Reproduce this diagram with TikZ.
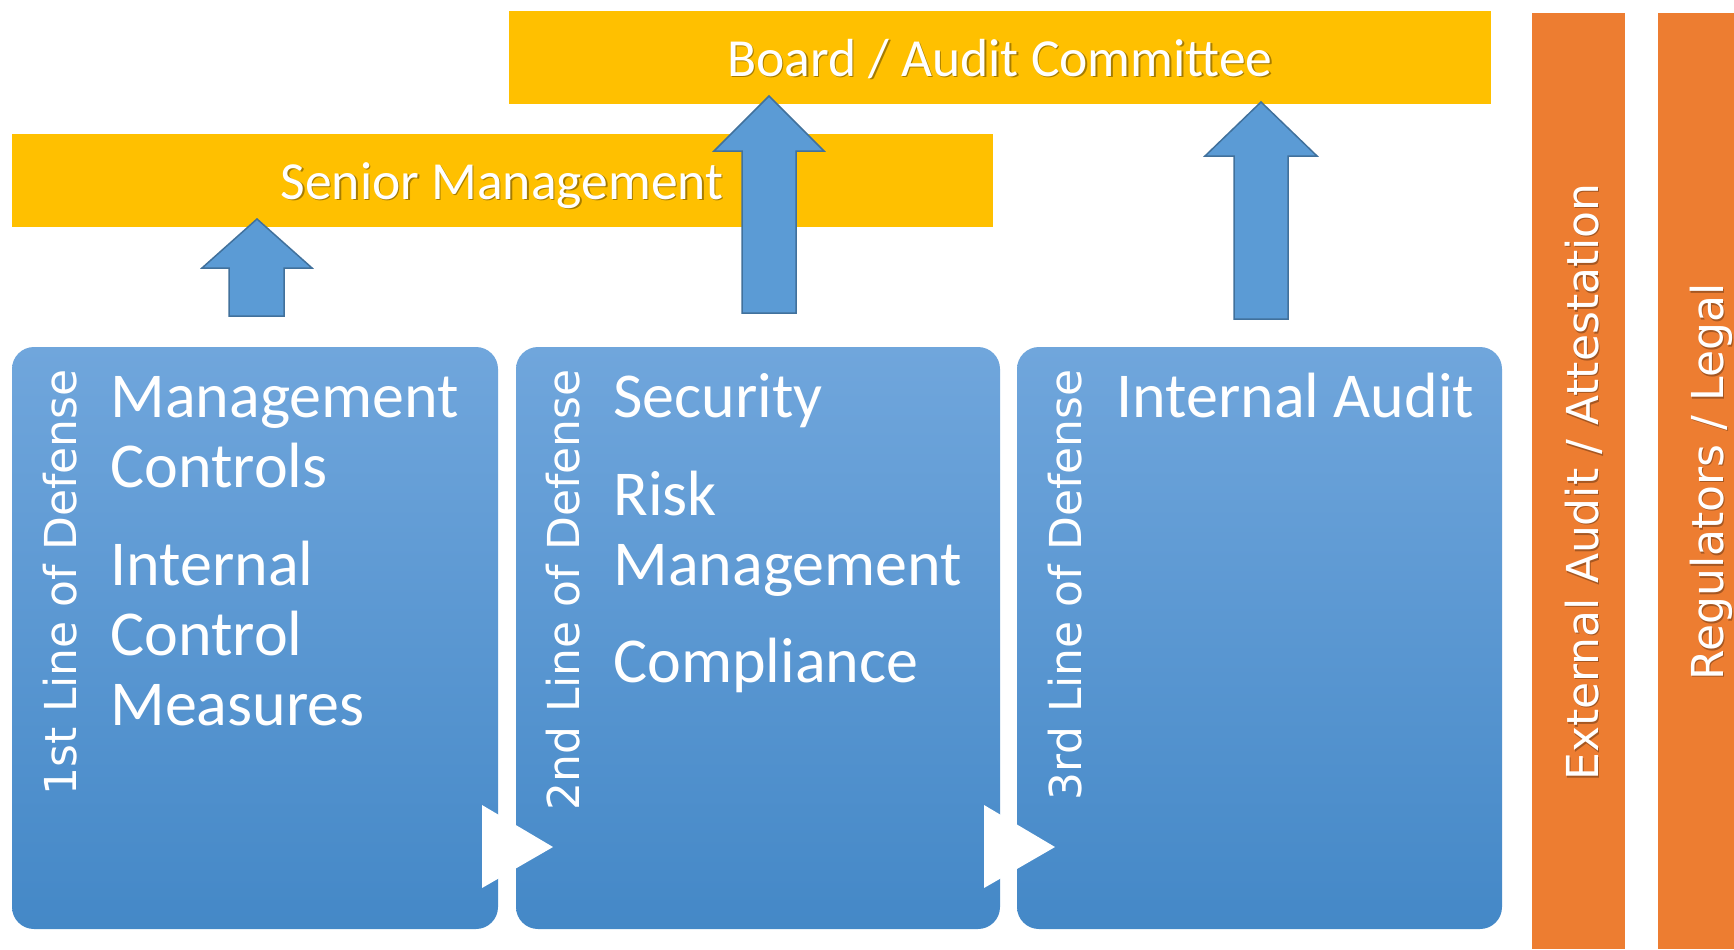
\documentclass[tikz,border=0pt]{standalone}
\usepackage{fontspec}
\setmainfont{Carlito}
\newfontfamily\dvfont{DejaVu Sans}
\definecolor{yel}{HTML}{FFC000}
\definecolor{org}{HTML}{ED7D31}
\definecolor{btop}{HTML}{70A6DC}
\definecolor{bbot}{HTML}{4488C7}
\definecolor{afill}{HTML}{5B9BD5}
\definecolor{aline}{HTML}{41719C}
\tikzset{
  bar/.style={fill=yel, draw=none},
  obar/.style={fill=org, draw=none},
  lodbox/.style={top color=btop, bottom color=bbot, draw=none, rounded corners=11pt},
  blockarrow/.style={fill=afill, draw=aline, line width=0.75pt, line join=miter},
  wtri/.style={fill=white, draw=none},
  itemtxt/.style={text=white, inner sep=0pt, anchor=base west, font=\fontsize{32}{36}\selectfont},
  bartxt/.style={text=white, inner sep=0pt, anchor=base, font=\fontsize{26.8}{30}\selectfont},
  shadowtxt/.style={text=black, text opacity=0.35, inner sep=0pt, anchor=base, font=\fontsize{26.8}{30}\selectfont},
  rottxt/.style={text=white, inner sep=0pt, rotate=90, anchor=base east, font=\dvfont\fontsize{22}{26}\selectfont},
  orgtxt/.style={text=white, inner sep=0pt, rotate=90, anchor=base, font=\dvfont\fontsize{22}{26}\selectfont},
}
\begin{document}
\begin{tikzpicture}[x=0.5pt,y=-0.5pt]
\useasboundingbox (0,0) rectangle (1734,949);
\fill[white] (0,0) rectangle (1734,949);
% yellow bars
\fill[bar] (509,11) rectangle (1491,104);
\fill[bar] (12,134) rectangle (993,227);
\node[shadowtxt] (boardsh) at (1001.5,77.5) {Board / Audit Committee};
\node[bartxt] (board) at (1000,76) {Board / Audit Committee};
\node[shadowtxt] (seniorsh) at (503.5,200.5) {Senior Management};
\node[bartxt] (senior) at (502,199) {Senior Management};
% orange bars
\fill[obar] (1532,13) rectangle (1625,949);
\fill[obar] (1658,13) rectangle (1734,949);
\node[orgtxt, text=black, text opacity=0.3] (extsh) at (1599.5,483.5) {External Audit / Attestation};
\node[orgtxt] (ext) at (1598,482) {External Audit / Attestation};
\node[orgtxt, text=black, text opacity=0.3] (regsh) at (1724.5,483.5) {Regulators / Legal};
\node[orgtxt] (reg) at (1723,482) {Regulators / Legal};
% line of defense boxes
\shade[lodbox] (12,347) rectangle (498,929);
\shade[lodbox] (516,347) rectangle (1000,929);
\shade[lodbox] (1017,347) rectangle (1502,929);
% white chevrons
\fill[wtri] (482,805) -- (553,847) -- (482,888) -- cycle;
\fill[wtri] (984,805) -- (1055,847) -- (984,888) -- cycle;
% rotated labels
\node[rottxt] (l1) at (76,369) {1st Line of Defense};
\node[rottxt] (l2) at (579,369) {2nd Line of Defense};
\node[rottxt] (l3) at (1081,369) {3rd Line of Defense};
% box 1 items
\node[itemtxt] (a1) at (110,417) {Management};
\node[itemtxt] (a2) at (110,487) {Controls};
\node[itemtxt] (a3) at (110,585) {Internal};
\node[itemtxt] (a4) at (110,655) {Control};
\node[itemtxt] (a5) at (110,725) {Measures};
% box 2 items
\node[itemtxt] (b1) at (613,417) {Security};
\node[itemtxt] (b2) at (613,515) {Risk};
\node[itemtxt] (b3) at (613,585) {Management};
\node[itemtxt] (b4) at (613,682) {Compliance};
% box 3 items
\node[itemtxt] (c1) at (1116,417) {Internal Audit};
% block arrows
\draw[blockarrow] (229,316) -- (229,268) -- (202,268) -- (257,219) -- (312,268) -- (284,268) -- (284,316) -- cycle;
\draw[blockarrow] (742,313) -- (742,151) -- (714,151) -- (769,96) -- (824,151) -- (796,151) -- (796,313) -- cycle;
\draw[blockarrow] (1234,319) -- (1234,156) -- (1205,156) -- (1261,102) -- (1317,156) -- (1288,156) -- (1288,319) -- cycle;
\end{tikzpicture}
\end{document}
